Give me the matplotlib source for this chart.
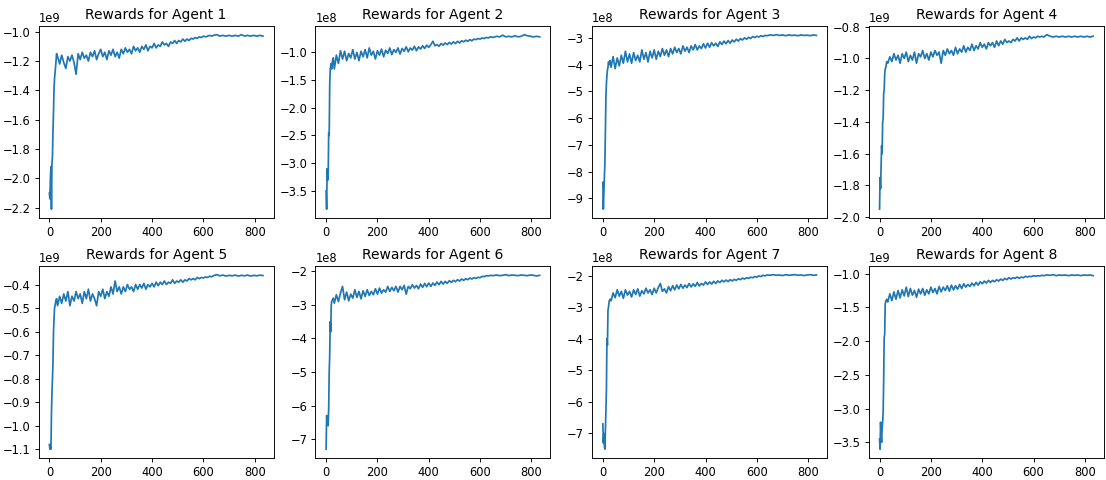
import numpy as np
import matplotlib.pyplot as plt
from matplotlib.ticker import MaxNLocator

# sampled episode numbers for the reward curves
episodes = ([0, 2, 4, 6, 8, 10, 12, 14, 16, 18, 20, 22, 25, 28]
            + list(range(32, 640, 8))
            + list(range(640, 835, 12)))

# rewards per agent, in units of the matching entry of `scales`
scales = [1e9, 1e8, 1e8, 1e9, 1e9, 1e8, 1e8, 1e9]

agent1 = [-2.10, -2.14, -2.00, -1.92, -2.21, -1.90, -1.85, -1.68, -1.55, -1.40, -1.32, -1.28, -1.22, -1.15,
          -1.17, -1.22, -1.16, -1.21, -1.25, -1.17, -1.20, -1.16, -1.21, -1.29,
          -1.15, -1.19, -1.14, -1.18, -1.16, -1.20, -1.14, -1.17, -1.13, -1.19,
          -1.15, -1.12, -1.17, -1.14, -1.19, -1.13, -1.16, -1.12, -1.17, -1.14,
          -1.18, -1.12, -1.15, -1.11, -1.14, -1.12, -1.15, -1.10, -1.13, -1.11,
          -1.14, -1.10, -1.12, -1.09, -1.13, -1.10, -1.11, -1.08, -1.11, -1.09,
          -1.10, -1.07, -1.09, -1.08, -1.10, -1.07, -1.08, -1.06, -1.08, -1.06,
          -1.07, -1.05, -1.065, -1.05, -1.06, -1.045, -1.05, -1.04, -1.045, -1.035,
          -1.04, -1.03, -1.035, -1.03, -1.025, -1.03,
          -1.025, -1.02, -1.03, -1.025, -1.03, -1.025, -1.03, -1.025, -1.03, -1.02,
          -1.03, -1.025, -1.03, -1.025, -1.03, -1.025, -1.03]

agent2 = [-3.50, -3.83, -3.10, -3.30, -3.30, -2.45, -2.50, -1.60, -1.30, -1.25, -1.20, -1.30, -1.15, -1.10,
          -1.30, -1.05, -1.20, -0.97, -1.12, -0.98, -1.15, -1.02, -1.10, -0.95,
          -1.12, -1.00, -1.15, -0.98, -1.08, -0.95, -1.10, -0.92, -1.05, -0.98,
          -1.12, -0.97, -1.05, -0.94, -1.08, -0.96, -1.02, -0.92, -1.04, -0.95,
          -1.00, -0.92, -1.03, -0.93, -0.98, -0.90, -0.99, -0.92, -0.96, -0.89,
          -0.97, -0.90, -0.94, -0.88, -0.93, -0.87, -0.91, -0.86, -0.80, -0.88,
          -0.86, -0.89, -0.84, -0.87, -0.83, -0.86, -0.82, -0.85, -0.81, -0.84,
          -0.80, -0.83, -0.79, -0.81, -0.78, -0.80, -0.77, -0.79, -0.76, -0.77,
          -0.75, -0.76, -0.74, -0.75, -0.73, -0.74,
          -0.72, -0.73, -0.71, -0.72, -0.69, -0.72, -0.71, -0.72, -0.70, -0.72,
          -0.71, -0.68, -0.70, -0.71, -0.72, -0.71, -0.72]

agent3 = [-8.40, -9.40, -8.80, -8.20, -7.70, -6.50, -5.20, -4.70, -4.40, -4.20, -4.10, -3.90, -4.00, -3.85,
          -4.10, -3.70, -4.15, -3.75, -4.05, -3.65, -3.95, -3.50, -3.90, -3.60,
          -3.95, -3.55, -3.85, -3.65, -3.90, -3.45, -3.80, -3.55, -3.90, -3.50,
          -3.75, -3.45, -3.80, -3.50, -3.70, -3.40, -3.65, -3.45, -3.70, -3.40,
          -3.60, -3.35, -3.55, -3.40, -3.60, -3.30, -3.50, -3.35, -3.55, -3.30,
          -3.45, -3.25, -3.45, -3.30, -3.40, -3.22, -3.38, -3.20, -3.35, -3.18,
          -3.30, -3.20, -3.32, -3.15, -3.25, -3.12, -3.22, -3.10, -3.20, -3.08,
          -3.15, -3.05, -3.12, -3.03, -3.08, -3.00, -3.05, -2.98, -3.02, -2.95,
          -2.99, -2.94, -2.97, -2.92, -2.95, -2.91,
          -2.92, -2.89, -2.91, -2.88, -2.91, -2.89, -2.92, -2.89, -2.91, -2.90,
          -2.92, -2.89, -2.91, -2.90, -2.92, -2.89, -2.91]

agent4 = [-1.95, -1.75, -1.82, -1.68, -1.55, -1.60, -1.40, -1.38, -1.22, -1.20, -1.10, -1.07, -1.05, -1.02,
          -1.03, -0.99, -1.02, -0.97, -1.01, -0.98, -1.03, -0.97, -1.00, -0.96,
          -1.02, -0.98, -1.01, -0.96, -1.03, -0.97, -0.99, -0.95, -1.00, -0.97,
          -1.01, -0.96, -0.99, -0.95, -0.98, -0.96, -1.03, -0.95, -0.98, -0.94,
          -0.97, -0.95, -0.98, -0.93, -0.97, -0.94, -0.96, -0.92, -0.96, -0.93,
          -0.95, -0.91, -0.95, -0.92, -0.94, -0.90, -0.93, -0.91, -0.94, -0.90,
          -0.92, -0.90, -0.93, -0.89, -0.92, -0.89, -0.91, -0.88, -0.90, -0.89,
          -0.90, -0.88, -0.89, -0.87, -0.89, -0.87, -0.88, -0.87, -0.88, -0.86,
          -0.875, -0.865, -0.87, -0.86, -0.865, -0.86,
          -0.865, -0.85, -0.86, -0.865, -0.86, -0.865, -0.86, -0.865, -0.86, -0.865,
          -0.86, -0.865, -0.86, -0.865, -0.86, -0.865, -0.86]

agent5 = [-1.08, -1.10, -1.09, -1.10, -0.95, -0.86, -0.80, -0.73, -0.60, -0.55, -0.50, -0.49, -0.47, -0.46,
          -0.49, -0.45, -0.48, -0.44, -0.47, -0.43, -0.49, -0.45, -0.47, -0.43,
          -0.46, -0.44, -0.48, -0.43, -0.46, -0.42, -0.47, -0.44, -0.46, -0.49,
          -0.43, -0.45, -0.42, -0.46, -0.43, -0.45, -0.41, -0.44, -0.385, -0.43,
          -0.41, -0.44, -0.41, -0.43, -0.40, -0.42, -0.41, -0.43, -0.40, -0.42,
          -0.40, -0.415, -0.395, -0.42, -0.40, -0.41, -0.395, -0.41, -0.39, -0.405,
          -0.39, -0.40, -0.385, -0.40, -0.39, -0.395, -0.38, -0.395, -0.385, -0.39,
          -0.38, -0.39, -0.38, -0.385, -0.375, -0.38, -0.375, -0.38, -0.37, -0.375,
          -0.37, -0.372, -0.368, -0.37, -0.365, -0.367,
          -0.362, -0.358, -0.363, -0.36, -0.364, -0.361, -0.363, -0.36, -0.364, -0.361,
          -0.363, -0.36, -0.364, -0.361, -0.363, -0.36, -0.362]

agent6 = [-7.30, -6.30, -6.40, -6.30, -6.60, -6.10, -5.00, -4.50, -3.50, -3.80, -3.00, -2.90, -2.85, -2.80,
          -2.95, -2.70, -2.90, -2.65, -2.45, -2.85, -2.62, -2.88, -2.68, -2.80,
          -2.55, -2.78, -2.60, -2.82, -2.58, -2.75, -2.55, -2.72, -2.60, -2.70,
          -2.52, -2.68, -2.50, -2.65, -2.55, -2.62, -2.45, -2.60, -2.48, -2.58,
          -2.45, -2.62, -2.45, -2.55, -2.42, -2.68, -2.45, -2.52, -2.40, -2.50,
          -2.42, -2.52, -2.38, -2.48, -2.36, -2.46, -2.35, -2.45, -2.35, -2.42,
          -2.32, -2.40, -2.30, -2.38, -2.30, -2.36, -2.28, -2.33, -2.27, -2.31,
          -2.25, -2.29, -2.23, -2.27, -2.22, -2.25, -2.20, -2.23, -2.19, -2.21,
          -2.18, -2.19, -2.15, -2.16, -2.13, -2.14,
          -2.12, -2.13, -2.11, -2.13, -2.12, -2.10, -2.13, -2.11, -2.12, -2.13,
          -2.11, -2.12, -2.13, -2.11, -2.12, -2.14, -2.12]

agent7 = [-6.70, -7.30, -7.00, -7.40, -7.50, -6.90, -6.30, -5.60, -4.00, -4.20, -3.10, -3.00, -2.80, -2.75,
          -2.80, -2.55, -2.70, -2.45, -2.65, -2.50, -2.72, -2.45, -2.62, -2.50,
          -2.68, -2.45, -2.60, -2.42, -2.65, -2.48, -2.58, -2.40, -2.55, -2.45,
          -2.60, -2.40, -2.55, -2.38, -2.25, -2.50, -2.42, -2.55, -2.35, -2.48,
          -2.32, -2.45, -2.30, -2.42, -2.28, -2.40, -2.30, -2.38, -2.25, -2.36,
          -2.26, -2.34, -2.22, -2.33, -2.25, -2.30, -2.20, -2.28, -2.20, -2.27,
          -2.18, -2.25, -2.17, -2.22, -2.15, -2.20, -2.14, -2.19, -2.13, -2.17,
          -2.12, -2.15, -2.10, -2.13, -2.08, -2.11, -2.07, -2.09, -2.05, -2.07,
          -2.03, -2.05, -2.01, -2.03, -1.99, -2.01,
          -1.98, -1.99, -1.97, -1.99, -1.98, -2.00, -1.97, -1.99, -1.98, -1.97,
          -1.99, -1.98, -2.00, -1.98, -1.97, -1.99, -1.98]

agent8 = [-3.45, -3.60, -3.20, -3.40, -3.50, -3.30, -3.20, -3.05, -2.60, -1.95, -1.90, -1.45, -1.40, -1.38,
          -1.42, -1.30, -1.40, -1.27, -1.38, -1.25, -1.36, -1.24, -1.33, -1.20,
          -1.34, -1.22, -1.32, -1.25, -1.35, -1.23, -1.30, -1.22, -1.32, -1.24,
          -1.30, -1.20, -1.28, -1.22, -1.30, -1.19, -1.27, -1.20, -1.25, -1.18,
          -1.26, -1.17, -1.24, -1.18, -1.23, -1.16, -1.22, -1.15, -1.20, -1.16,
          -1.19, -1.14, -1.18, -1.13, -1.17, -1.12, -1.15, -1.11, -1.14, -1.10,
          -1.13, -1.10, -1.12, -1.09, -1.11, -1.08, -1.10, -1.07, -1.09, -1.06,
          -1.08, -1.06, -1.07, -1.05, -1.07, -1.05, -1.06, -1.04, -1.05, -1.04,
          -1.045, -1.03, -1.04, -1.03, -1.035, -1.025,
          -1.03, -1.02, -1.025, -1.015, -1.03, -1.02, -1.025, -1.02, -1.03, -1.02,
          -1.025, -1.02, -1.03, -1.02, -1.025, -1.02, -1.03]

rewards = [agent1, agent2, agent3, agent4, agent5, agent6, agent7, agent8]

DPI = 83
fig, axes = plt.subplots(2, 4, figsize=(1106 / DPI, 480 / DPI))
for i, ax in enumerate(axes.flat):
    ax.plot(episodes, np.array(rewards[i]) * scales[i])
    ax.set_title(f'Rewards for Agent {i + 1}')
    ax.yaxis.set_major_locator(MaxNLocator(nbins=9, steps=[1, 2, 2.5, 5, 10]))

fig.subplots_adjust(left=0.035, right=0.998, bottom=0.046, top=0.946,
                    wspace=0.178, hspace=0.25)
plt.savefig('out.png', dpi=DPI)
